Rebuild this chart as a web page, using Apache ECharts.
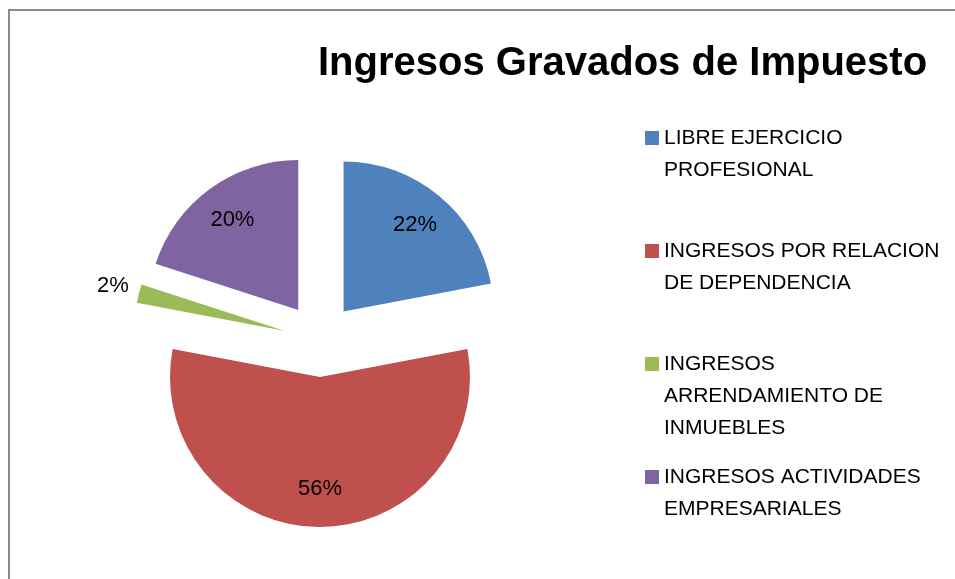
<!DOCTYPE html>
<html>
<head>
<meta charset="utf-8">
<script src="https://cdn.jsdelivr.net/npm/echarts@6/dist/echarts.min.js"></script>
<style>
  html, body { margin: 0; padding: 0; background: #fff; }
  #chart { width: 955px; height: 579px; }
</style>
</head>
<body>
<div id="chart"></div>
<script>
  // datos
  var categorias = [
    'LIBRE EJERCICIO\nPROFESIONAL',
    'INGRESOS POR RELACION\nDE DEPENDENCIA',
    'INGRESOS\nARRENDAMIENTO DE\nINMUEBLES',
    'INGRESOS ACTIVIDADES\nEMPRESARIALES'
  ];
  var valores = [22, 56, 2, 20];
  var colores = ['#4F81BD', '#C0504D', '#9BBB59', '#8064A2'];

  var fuente = 'Liberation Sans';
  var centro = [320, 340];
  var radio = 150;
  var separacion = 37;

  var datosPie = categorias.map(function (c, i) {
    return {name: c, value: valores[i], selected: true};
  });

  // serie transparente solo para poner las etiquetas mas afuera
  var datosEtiquetas = categorias.map(function (c, i) {
    var fuera = valores[i] < 5;
    return {
      name: c, value: valores[i], selected: true,
      label: {position: fuera ? 'outside' : 'inside'}
    };
  });

  var chart = echarts.init(document.getElementById('chart'));
  chart.setOption({
    animation: false,
    color: colores,
    graphic: [{
      type: 'rect', silent: true,
      shape: {x: 9, y: 10, width: 1200, height: 1000},
      style: {fill: 'none', stroke: '#898989', lineWidth: 2}
    }],
    title: {
      text: 'Ingresos Gravados de Impuesto',
      left: 313, top: 39,
      textStyle: {fontFamily: fuente, fontSize: 40, fontWeight: 'bold', color: '#000'}
    },
    legend: {
      orient: 'vertical',
      left: 645, top: 122, padding: 0,
      itemWidth: 14, itemHeight: 96, itemGap: 17,
      icon: 'path://M0,0h0.1M0,9h14v14h-14zM0,96h0.1',
      itemStyle: {borderWidth: 0},
      data: categorias,
      formatter: function (name) {
        var n = name.split('\n').length;
        return name + new Array(4 - n).join('\n');
      },
      textStyle: {fontFamily: fuente, fontSize: 21, lineHeight: 32, color: '#000'}
    },
    series: [{
      type: 'pie',
      center: centro,
      radius: radio,
      startAngle: 90,
      selectedMode: 'multiple',
      selectedOffset: separacion,
      avoidLabelOverlap: false,
      itemStyle: {borderWidth: 0},
      label: {show: false},
      labelLine: {show: false},
      emphasis: {disabled: true},
      data: datosPie
    }, {
      type: 'pie',
      silent: true,
      legendHoverLink: false,
      center: centro,
      radius: [68, radio],
      startAngle: 90,
      selectedMode: 'multiple',
      selectedOffset: separacion,
      avoidLabelOverlap: false,
      percentPrecision: 0,
      itemStyle: {color: 'rgba(0,0,0,0)', borderWidth: 0},
      label: {
        show: true,
        formatter: '{d}%',
        fontFamily: fuente, fontSize: 22, color: '#000'
      },
      labelLine: {show: false, length: 30, length2: -24},
      emphasis: {disabled: true},
      data: datosEtiquetas
    }]
  });
</script>
</body>
</html>
